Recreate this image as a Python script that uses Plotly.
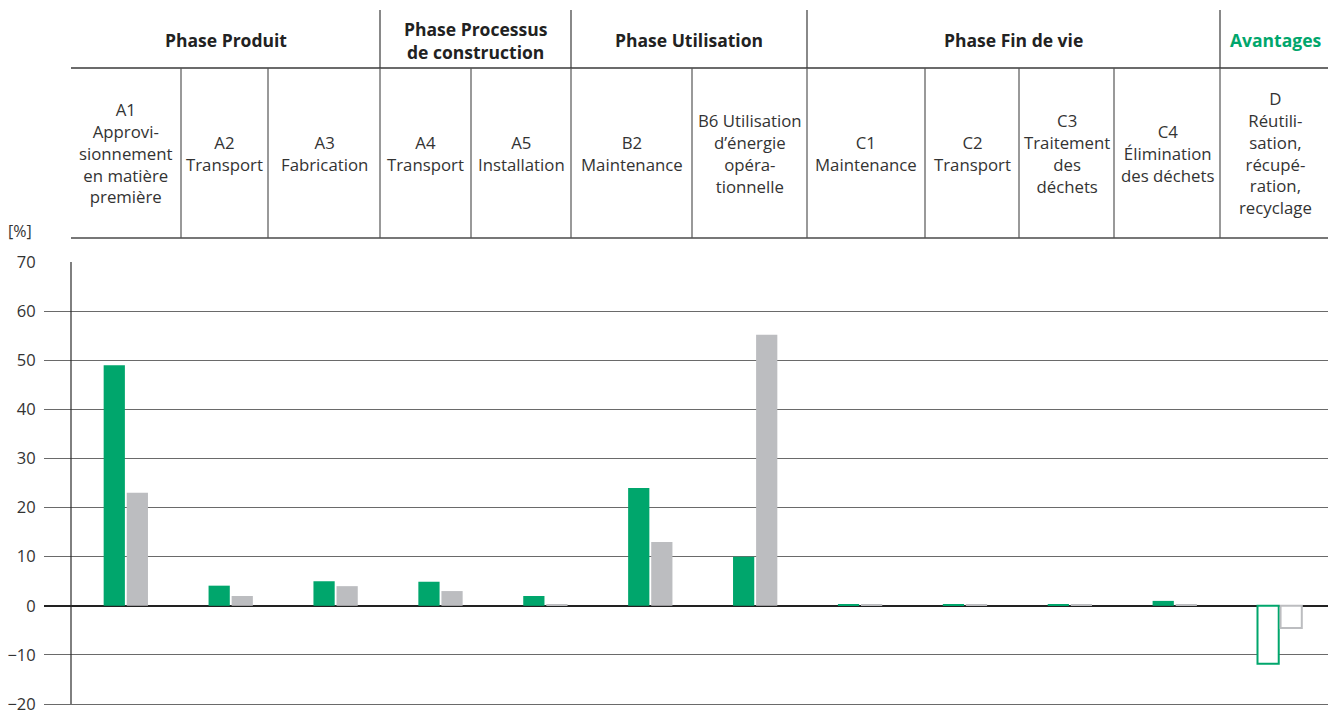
import plotly.graph_objects as go

# ---- data ----
modules = ["A1", "A2", "A3", "A4", "A5", "B2", "B6", "C1", "C2", "C3", "C4", "D"]
module_labels = [
    "A1<br>Approvi-<br>sionnement<br>en matière<br>première",
    "A2<br>Transport",
    "A3<br>Fabrication",
    "A4<br>Transport",
    "A5<br>Installation",
    "B2<br>Maintenance",
    "B6 Utilisation<br>d’énergie<br>opéra-<br>tionnelle",
    "C1<br>Maintenance",
    "C2<br>Transport",
    "C3<br>Traitement<br>des<br>déchets",
    "C4<br>Élimination<br>des déchets",
    "D<br>Réutili-<br>sation,<br>récupé-<br>ration,<br>recyclage",
]
phases = ["Phase Produit", "Phase Processus<br>de construction", "Phase Utilisation",
          "Phase Fin de vie", "Avantages"]
serie_verte = [49, 4.1, 5, 4.9, 2, 24, 10, 0.25, 0.25, 0.25, 1, -11.8]
serie_grise = [23, 2, 4, 3, 0.25, 13, 55.2, 0.25, 0.25, 0.25, 0.25, -4.5]
y_ticks = [70, 60, 50, 40, 30, 20, 10, 0, -10, -20]

GREEN = "#00A66C"
GREY = "#BCBDC0"
DARK = "#2a2a2a"
FONT = "Open Sans"

# page body has an 8px margin, so the figure is shifted by 8px
W, H = 1328, 712
L, R, T, B = 36, 6, 254, 14
pw, ph = W - L - R, H - T - B


def px(x):  # x in reference pixels
    return (x - 8 - L) / pw


def py(y):  # y in reference pixels
    return (H - B - (y - 8)) / ph


def styles(col):
    fill = ["white" if m == "D" else col for m in modules]
    lw = [2 if m == "D" else 0 for m in modules]
    return dict(color=fill, line=dict(color=col, width=lw))


fig = go.Figure()
fig.add_trace(go.Bar(x=modules, y=serie_verte, name="Série 1", marker=styles(GREEN)))
fig.add_trace(go.Bar(x=modules, y=serie_grise, name="Série 2", marker=styles(GREY)))

# ---- header table (layout) ----
col_edges = [71, 181, 268, 380, 471, 571, 692, 807, 925, 1019, 1114, 1220, 1330]
phase_edges = [71, 380, 571, 807, 1220, 1330]
y_top, y_mid, y_bot = 10, 68, 238

shapes = []
line_c = "#3a3a3a"
shapes.append(dict(type="line", xref="paper", yref="paper", x0=px(71), x1=px(1330),
                   y0=py(y_mid), y1=py(y_mid), line=dict(color=line_c, width=1.3)))
shapes.append(dict(type="line", xref="paper", yref="paper", x0=px(71), x1=px(1330),
                   y0=py(y_bot), y1=py(y_bot), line=dict(color="#777", width=2)))
for e in phase_edges[1:-1]:
    shapes.append(dict(type="line", xref="paper", yref="paper", x0=px(e), x1=px(e),
                       y0=py(y_top), y1=py(y_mid), line=dict(color=line_c, width=1.2)))
for e in col_edges[1:-1]:
    shapes.append(dict(type="line", xref="paper", yref="paper", x0=px(e), x1=px(e),
                       y0=py(y_mid), y1=py(y_bot), line=dict(color="#555", width=1.2)))
# vertical y-axis line
shapes.append(dict(type="line", xref="paper", yref="paper", x0=px(71), x1=px(71),
                   y0=py(704), y1=py(262), line=dict(color=DARK, width=1.2)))

annotations = []
for i, ph_name in enumerate(phases):
    cx = (phase_edges[i] + phase_edges[i + 1]) / 2
    annotations.append(dict(
        x=px(cx), y=py(40), xref="paper", yref="paper", text="<b>" + ph_name + "</b>",
        showarrow=False, xanchor="center", yanchor="middle",
        font=dict(family=FONT, size=17.5, color=GREEN if ph_name == "Avantages" else "#222")))
for i, lab in enumerate(module_labels):
    cx = (col_edges[i] + col_edges[i + 1]) / 2
    annotations.append(dict(
        x=px(cx), y=py(153), xref="paper", yref="paper", text=lab,
        showarrow=False, xanchor="center", yanchor="middle",
        font=dict(family=FONT, size=16.8, color="#333")))
annotations.append(dict(x=px(6), y=py(231), xref="paper", yref="paper", text="[%]",
                        showarrow=False, xanchor="left", yanchor="middle",
                        font=dict(family=FONT, size=16, color="#333")))

fig.update_layout(
    width=W, height=H,
    margin=dict(l=L, r=R, t=T, b=B, autoexpand=False),
    plot_bgcolor="white", paper_bgcolor="white",
    barmode="group", bargap=0.56, bargroupgap=0.08,
    showlegend=False,
    shapes=shapes, annotations=annotations,
    font=dict(family=FONT, size=16, color="#333"),
)
fig.update_xaxes(range=[-0.78, 11.48], showticklabels=False, showgrid=False,
                 zeroline=False, showline=False, ticks="", automargin=False)
fig.update_yaxes(range=[-20.4, 70], tickvals=y_ticks, showgrid=True, gridcolor="#6a6a6a",
                 gridwidth=1.2, zeroline=True, zerolinecolor="#222", zerolinewidth=1.6,
                 showline=False, ticks="outside", ticklen=4, tickcolor="rgba(0,0,0,0)",
                 automargin=False, ticklabeloverflow="allow",
                 tickfont=dict(family=FONT, size=16.5, color="#333"))

fig.write_html("out.html")
